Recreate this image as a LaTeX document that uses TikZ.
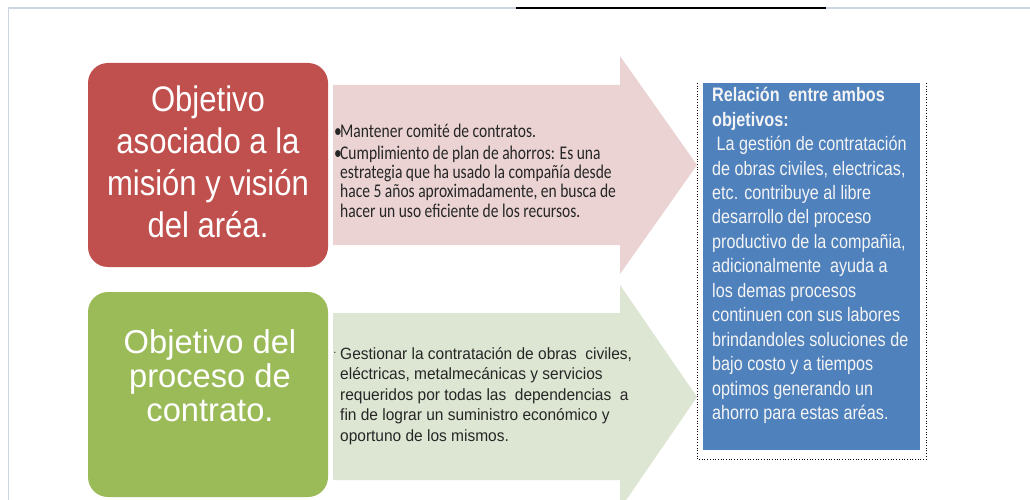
\documentclass[tikz,border=0pt]{standalone}
\usepackage{fontspec}
\setmainfont{Liberation Sans}
\newfontfamily\titlefont[FakeStretch=0.875]{Liberation Sans}
\newfontfamily\gtitlefont[FakeStretch=0.99]{Liberation Sans}
\newfontfamily\pinkfont[FakeStretch=0.80]{Carlito}
\newfontfamily\greenfont[FakeStretch=0.95]{Liberation Sans}
\newfontfamily\bluefont[FakeStretch=0.83]{Liberation Sans}
\definecolor{framegrey}{HTML}{CDD5E0}
\definecolor{boxred}{HTML}{C0504D}
\definecolor{boxgreen}{HTML}{9BBB59}
\definecolor{boxblue}{HTML}{4F81BD}
\definecolor{arrowpink}{HTML}{EBD3D3}
\definecolor{arrowgreen}{HTML}{DDE6D2}
\definecolor{textwhite}{HTML}{F4F4F4}
\definecolor{darktext}{HTML}{262626}
\tikzset{
  objbox/.style={rounded corners=20pt, minimum width=240pt, inner sep=0pt, draw=none},
  txt/.style={inner sep=0pt, anchor=base west},
  ctxt/.style={inner sep=0pt, anchor=base},
}
\begin{document}
\begin{tikzpicture}[x=1pt,y=-1pt]
\useasboundingbox (0,0) rectangle (1030,500);
\fill[white] (0,0) rectangle (1030,500);
% frame
\draw[framegrey, line width=0.8pt] (8,8) -- (8,500);
\draw[framegrey, line width=1.6pt] (8,8) -- (1030,8);
\draw[black, line width=2pt] (516,8) -- (826,8);
% arrows
\fill[arrowpink] (333,85) -- (620,85) -- (620,56) -- (697,165) -- (620,274) -- (620,245) -- (333,245) -- cycle;
\fill[arrowgreen] (333,313) -- (620,313) -- (620,285) -- (697,397) -- (620,509) -- (620,480) -- (333,480) -- cycle;
% objective boxes
\node[objbox, fill=boxred, minimum height=204pt] (obj1) at (208,165) {};
\node[objbox, fill=boxgreen, minimum height=205pt] (obj2) at (208,394.5) {};
% blue box
\node[fill=boxblue, minimum width=217pt, minimum height=367pt, inner sep=0pt] (rel) at (811.5,266.5) {};
\coordinate (f1) at (697,83);
\coordinate (f2) at (697,459);
\coordinate (f3) at (926,459);
\coordinate (f4) at (926,83);
\draw[black, line width=0.7pt, dotted] (f1) -- (f2) -- (f3) -- (f4);
% texts
\node[ctxt, text=white] (t1) at (208,112) {\parbox[t]{240pt}{\centering\titlefont\fontsize{35.5}{42}\selectfont Objetivo\\asociado a la\\misión y visión\\del aréa.}};
\node[ctxt, text=white] (t2) at (210,353) {\parbox[t]{240pt}{\centering\gtitlefont\fontsize{33}{34}\selectfont Objetivo del\\proceso de\\contrato.}};
\node[txt, text=darktext] (p1) at (334,137) {\parbox[t]{300pt}{\raggedright\pinkfont\fontsize{19.4}{19.4}\selectfont
\makebox[6pt][l]{•}Mantener comité de contratos.\\[2.6pt]
\makebox[6pt][l]{•}Cumplimiento de plan de ahorros: Es una\\
\hspace*{6pt}estrategia que ha usado la compañía desde\\
\hspace*{6pt}hace 5 años aproximadamente, en busca de\\
\hspace*{6pt}hacer un uso eficiente de los recursos.}};
\node[txt, text=darktext] (g1) at (334,359) {\parbox[t]{320pt}{\raggedright\greenfont\fontsize{16.3}{20.5}\selectfont
\makebox[6pt][l]{\raisebox{5pt}{\tiny•}}Gestionar la contratación de obras\ \ civiles,\\
\hspace*{6pt}eléctricas, metalmecánicas y servicios\\
\hspace*{6pt}requeridos por todas las\ \ dependencias\ \ a\\
\hspace*{6pt}fin de lograr un suministro económico y\\
\hspace*{6pt}oportuno de los mismos.}};
\node[txt, text=textwhite] (b1) at (712,101.7) {\parbox[t]{210pt}{\raggedright\bluefont\fontsize{19.5}{24.45}\selectfont
\textbf{Relación\ \ entre ambos}\\
\textbf{objetivos:}\\
\ La gestión de contratación\\
de obras civiles, electricas,\\
etc. contribuye al libre\\
desarrollo del proceso\\
productivo de la compañia,\\
adicionalmente\ \ ayuda a\\
los demas procesos\\
continuen con sus labores\\
brindandoles soluciones de\\
bajo costo y a tiempos\\
optimos generando un\\
ahorro para estas aréas.}};
\end{tikzpicture}
\end{document}
